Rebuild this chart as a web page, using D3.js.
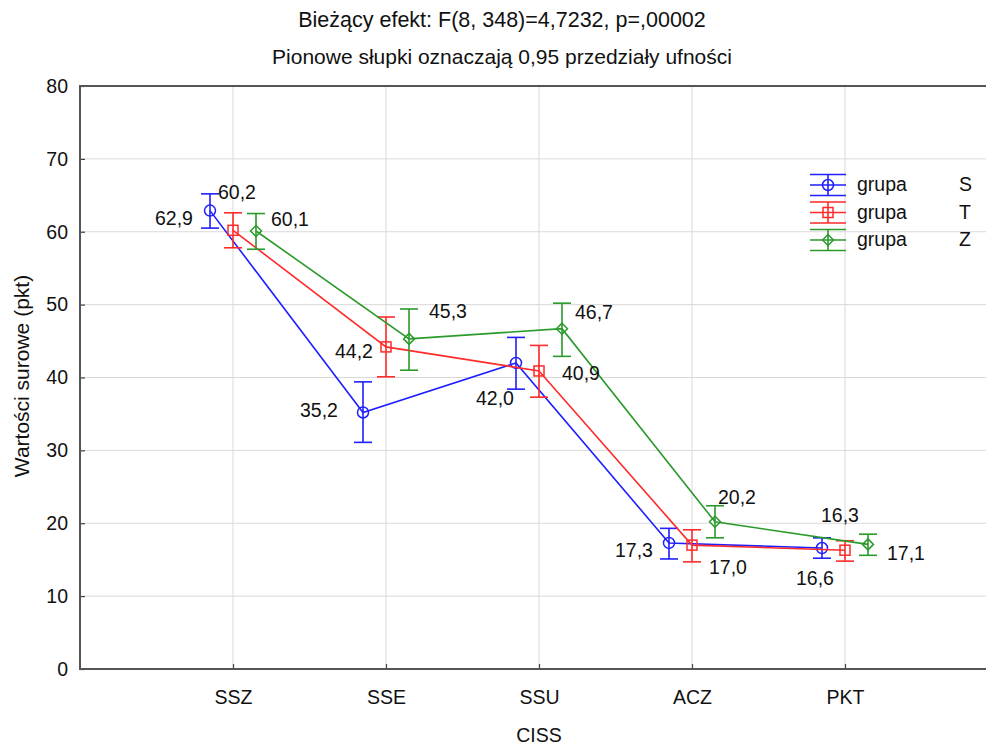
<!DOCTYPE html>
<html><head><meta charset="utf-8">
<script src="https://cdn.jsdelivr.net/npm/d3@7/dist/d3.min.js"></script>
<style>html,body{margin:0;padding:0;background:#fff;overflow:hidden}svg{display:block}</style>
</head><body>
<script>
const categories = ["SSZ","SSE","SSU","ACZ","PKT"];
const groups = ["S","T","Z"];
const meanS = [62.9, 35.2, 42.0, 17.3, 16.6];
const meanT = [60.2, 44.2, 40.9, 17.0, 16.3];
const meanZ = [60.1, 45.3, 46.7, 20.2, 17.1];
const lowS  = [60.5, 31.1, 38.4, 15.1, 15.2];
const highS = [65.2, 39.4, 45.5, 19.3, 18.0];
const lowT  = [57.8, 40.1, 37.3, 14.7, 14.8];
const highT = [62.6, 48.3, 44.4, 19.1, 17.6];
const lowZ  = [57.6, 41.0, 42.9, 18.0, 15.6];
const highZ = [62.5, 49.4, 50.2, 22.4, 18.5];
const yTicks = [0,10,20,30,40,50,60,70,80];
const title1 = "Bieżący efekt: F(8, 348)=4,7232, p=,00002";
const title2 = "Pionowe słupki oznaczają 0,95 przedziały ufności";
const yTitle = "Wartości surowe (pkt)";
const xTitle = "CISS";

// layout / style
const W = 986, H = 745;
const M = {left: 80, top: 86, right: 998, bottom: 669};
const colors = {S: "#1f1fff", T: "#ff2a2a", Z: "#2a9a2a"};
const groupOffset = {S: -23, T: 0, Z: 23};
// label offsets relative to point [dx, dy]
const labelPos = {
  S: [[-55, 14], [-63, 5], [-40, 42], [-54, 14], [-26, 37]],
  T: [[-15, -31], [-51, 11], [23, 9], [17, 29], [-24, -28]],
  Z: [[15, -5], [20, -21], [13, -10], [3, -18], [19, 16]]
};
const series = {
  S: {mean: meanS, low: lowS, high: highS},
  T: {mean: meanT, low: lowT, high: highT},
  Z: {mean: meanZ, low: lowZ, high: highZ}
};
const FONT = "'Liberation Sans', Arial, Helvetica, sans-serif";

const svg = d3.select("body").append("svg").attr("width", W).attr("height", H)
  .style("font-family", FONT);
svg.append("rect").attr("width", W).attr("height", H).attr("fill", "#fff");

const x = d3.scalePoint().domain(["", ...categories, " "]).range([M.left, M.right]);
const y = d3.scaleLinear().domain([0, 80]).range([M.bottom, M.top]);

// grid
const g = svg.append("g");
g.selectAll(".hg").data(yTicks.slice(1)).join("line")
  .attr("x1", M.left).attr("x2", W).attr("y1", d => y(d)).attr("y2", d => y(d))
  .attr("stroke", "#d9d9d9").attr("stroke-width", 1);
g.selectAll(".vg").data(categories).join("line")
  .attr("x1", d => x(d)).attr("x2", d => x(d)).attr("y1", M.top).attr("y2", M.bottom)
  .attr("stroke", "#d9d9d9").attr("stroke-width", 1);

// axes
const yAxis = d3.axisLeft(y).tickValues(yTicks).tickSize(-5).tickPadding(12).tickFormat(d3.format("d"));
const yg = svg.append("g").attr("transform", `translate(${M.left},0)`).call(yAxis);
const xAxis = d3.axisBottom(x).tickValues(categories).tickSize(-5).tickPadding(21);
const xg = svg.append("g").attr("transform", `translate(0,${M.bottom})`).call(xAxis);
[yg, xg].forEach(a => {
  a.select(".domain").remove();
  a.selectAll(".tick line").attr("stroke", "#444").attr("stroke-width", 1.2);
  a.selectAll("text").attr("fill", "#111").style("font-size", "19.5px").style("font-family", FONT);
});
// frame lines
svg.append("line").attr("x1", M.left).attr("x2", W).attr("y1", M.top).attr("y2", M.top)
  .attr("stroke", "#555").attr("stroke-width", 2);
svg.append("line").attr("x1", M.left).attr("x2", W).attr("y1", M.bottom).attr("y2", M.bottom)
  .attr("stroke", "#555").attr("stroke-width", 2);
svg.append("line").attr("x1", M.left).attr("x2", M.left).attr("y1", M.top - 1).attr("y2", M.bottom + 1)
  .attr("stroke", "#555").attr("stroke-width", 2);

// series
const px = (gname, i) => x(categories[i]) + groupOffset[gname];
function marker(sel, gname) {
  const c = colors[gname];
  if (gname === "S") sel.append("circle").attr("r", 5.5);
  else if (gname === "T") sel.append("rect").attr("x", -5).attr("y", -5).attr("width", 10).attr("height", 10);
  else sel.append("path").attr("d", "M0,-5.5L5.5,0L0,5.5L-5.5,0Z");
  sel.selectAll("*").attr("fill", "none").attr("stroke", c).attr("stroke-width", 1.5);
}
groups.forEach(gname => {
  const s = series[gname], c = colors[gname];
  const sg = svg.append("g");
  const line = d3.line().x((d, i) => px(gname, i)).y(d => y(d));
  sg.append("path").datum(s.mean).attr("d", line).attr("fill", "none")
    .attr("stroke", c).attr("stroke-width", 1.6);
  s.mean.forEach((m, i) => {
    const cx = px(gname, i);
    sg.append("line").attr("x1", cx).attr("x2", cx).attr("y1", y(s.low[i])).attr("y2", y(s.high[i]))
      .attr("stroke", c).attr("stroke-width", 1.6);
    [s.low[i], s.high[i]].forEach(v => {
      sg.append("line").attr("x1", cx - 9).attr("x2", cx + 9).attr("y1", y(v)).attr("y2", y(v))
        .attr("stroke", c).attr("stroke-width", 1.6);
    });
    const mk = sg.append("g").attr("transform", `translate(${cx},${y(m)})`);
    marker(mk, gname);
  });
});
// labels
groups.forEach(gname => {
  const s = series[gname];
  s.mean.forEach((m, i) => {
    const [dx, dy] = labelPos[gname][i];
    svg.append("text").attr("x", px(gname, i) + dx).attr("y", y(m) + dy)
      .attr("fill", "#111").style("font-size", "19.5px")
      .text(d3.format(".1f")(m).replace(".", ","));
  });
});

// legend
groups.forEach((gname, k) => {
  const cy = 185 + k * 27.5, c = colors[gname];
  const lg = svg.append("g");
  [-10.5, 0, 10.5].forEach(dy => {
    lg.append("line").attr("x1", 810).attr("x2", 846).attr("y1", cy + dy).attr("y2", cy + dy)
      .attr("stroke", c).attr("stroke-width", 1.6);
  });
  lg.append("line").attr("x1", 828).attr("x2", 828).attr("y1", cy - 10.5).attr("y2", cy + 10.5)
    .attr("stroke", c).attr("stroke-width", 1.6);
  const mk = lg.append("g").attr("transform", `translate(828,${cy})`);
  marker(mk, gname);
  lg.append("text").attr("x", 857).attr("y", cy + 6).attr("fill", "#111").style("font-size", "19.5px").text("grupa");
  lg.append("text").attr("x", 959).attr("y", cy + 6).attr("fill", "#111").style("font-size", "19.5px").text(gname);
});

// titles
svg.append("text").attr("x", 502).attr("y", 27).attr("text-anchor", "middle")
  .attr("fill", "#111").style("font-size", "21.5px").text(title1);
svg.append("text").attr("x", 502).attr("y", 64).attr("text-anchor", "middle")
  .attr("fill", "#111").style("font-size", "21px").text(title2);
svg.append("text").attr("transform", "translate(29,376) rotate(-90)").attr("text-anchor", "middle")
  .attr("fill", "#111").style("font-size", "21px").text(yTitle);
svg.append("text").attr("x", 539).attr("y", 742).attr("text-anchor", "middle")
  .attr("fill", "#111").style("font-size", "19.5px").text(xTitle);
</script>
</body></html>
